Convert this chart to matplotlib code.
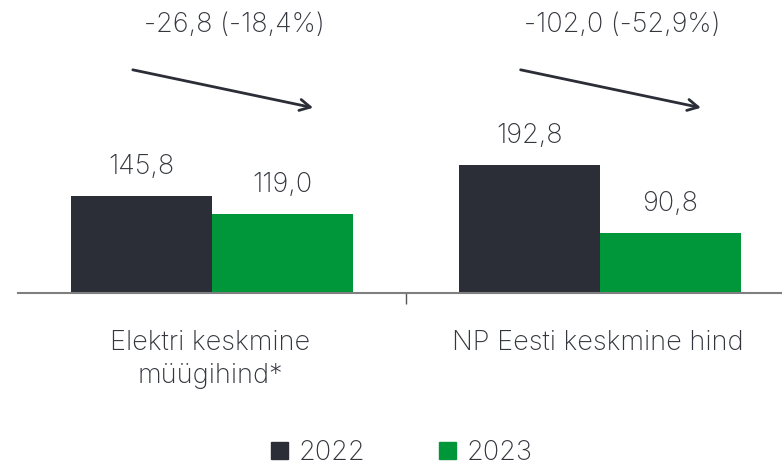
import numpy as np
import matplotlib
matplotlib.use("Agg")
import matplotlib.pyplot as plt
from matplotlib.patches import Patch

plt.rcParams['font.family'] = ['Inter', 'DejaVu Sans']

# data
categories = ["Elektri keskmine\nmüügihind*", "NP Eesti keskmine hind"]
years = ["2022", "2023"]
values_2022 = [145.8, 192.8]
values_2023 = [119.0, 90.8]
change_labels = ["-26,8 (-18,4%)", "-102,0 (-52,9%)"]

dark = '#2b2e36'
green = '#00963a'
text_col = '#33363d'
fs = 19.5

fig = plt.figure(figsize=(7.82, 4.67), dpi=100)
ax = fig.add_axes([18 / 782, 174 / 467, 764 / 782, 293 / 467])

x = np.arange(len(categories))
w = 0.363
b1 = ax.bar(x - w / 2, values_2022, w, color=dark, label=years[0])
b2 = ax.bar(x + w / 2, values_2023, w, color=green, label=years[1])

def fmt(v):
    return f"{v:.1f}".replace(".", ",")

for bars, vals in ((b1, values_2022), (b2, values_2023)):
    for r, v in zip(bars, vals):
        ax.annotate(fmt(v), (r.get_x() + r.get_width() / 2, v), xytext=(0, 21),
                    textcoords='offset points', ha='center', va='center',
                    fontsize=fs, color=text_col, fontweight='light')

# change arrows and labels
for i, lbl in enumerate(change_labels):
    ax.text(i + 0.057, 405, lbl, ha='center', va='center', fontsize=fs,
            color=text_col, fontweight='light')
    ax.annotate("", xy=(i + 0.268, 279), xytext=(i - 0.211, 338),
                arrowprops=dict(arrowstyle='->,head_length=0.75,head_width=0.4',
                                color=dark, lw=2))

ax.set_xlim(-0.5, 1.47)
ax.set_ylim(0, 442.6)
for s in ['top', 'right', 'left']:
    ax.spines[s].set_visible(False)
ax.spines['bottom'].set_color('#7f7f7f')
ax.spines['bottom'].set_linewidth(1.5)
ax.set_yticks([])
ax.set_xticks([0.5])
ax.set_xticklabels([])
ax.tick_params(axis='x', length=8, width=1, color='#555555')

for i, c in enumerate(categories):
    ax.text(i - 0.005, -56, c, ha='center', va='top', fontsize=fs, color=text_col,
            fontweight='light', linespacing=1.35)

handles = [Patch(color=dark), Patch(color=green)]
fig.legend(handles, years, loc='center', bbox_to_anchor=(0.514, 0.03), ncol=2,
           frameon=False, prop={'size': fs, 'weight': 'light'},
           handlelength=0.62, handleheight=0.6,
           handletextpad=0.4, columnspacing=2.7, labelcolor=text_col,
           borderpad=0.2)

fig.savefig("out.png", dpi=100)
